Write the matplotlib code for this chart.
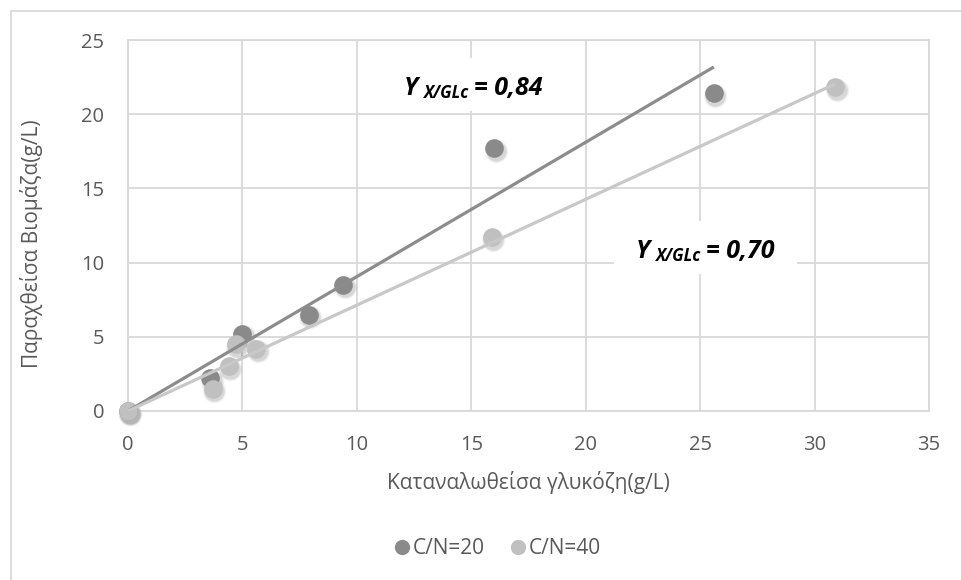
import numpy as np
import matplotlib
matplotlib.use("Agg")
import matplotlib.pyplot as plt
from matplotlib.patches import Rectangle
from matplotlib.lines import Line2D
import matplotlib.transforms as mtransforms

# ---- data ----
x_cn20 = [0, 3.6, 5.0, 7.9, 9.4, 16.0, 25.6]
y_cn20 = [0, 2.2, 5.2, 6.5, 8.5, 17.7, 21.4]
x_cn40 = [0, 3.7, 4.4, 4.7, 5.6, 15.9, 30.9]
y_cn40 = [0, 1.5, 3.0, 4.5, 4.2, 11.7, 21.8]
series_names = ["C/N=20", "C/N=40"]
yield_labels = ["0,84", "0,70"]
x_ticks = [0, 5, 10, 15, 20, 25, 30, 35]
y_ticks = [0, 5, 10, 15, 20, 25]
x_label = "Καταναλωθείσα γλυκόζη(g/L)"
y_label = "Παραχθείσα Βιομάζα(g/L)"

plt.rcParams['font.family'] = ['Open Sans', 'DejaVu Sans']

W, H = 962, 580
fig = plt.figure(figsize=(W / 100, H / 100), dpi=100)
ax = fig.add_axes([128 / W, 1 - 411 / H, (929 - 128) / W, (411 - 40) / H])

grid_c = '#d9d9d9'
text_c = '#595959'
dark_c = '#8a8a8a'
light_c = '#c0c0c0'
dark_line = '#8c8c8c'
light_line = '#c8c8c8'

ax.set_xlim(0, 35)
ax.set_ylim(0, 25)
ax.set_xticks(x_ticks)
ax.set_yticks(y_ticks)
ax.set_xticklabels([str(v) for v in x_ticks])
ax.set_yticklabels([str(v) for v in y_ticks])
ax.grid(True, color=grid_c, linewidth=1.3, zorder=0)
ax.set_axisbelow(True)
for s in ax.spines.values():
    s.set_color(grid_c)
    s.set_linewidth(1.3)
ax.tick_params(length=0, pad=17, labelsize=14.5, labelcolor=text_c)
for lab in ax.get_xticklabels() + ax.get_yticklabels():
    lab.set_clip_on(False)

# outer chart border
fig.patches.append(Rectangle((11 / W, -0.1), 1.2, 1 - 11 / H + 0.1,
                             transform=fig.transFigure, fill=False,
                             edgecolor=grid_c, linewidth=1.3))

ms = 180  # marker area (pt^2)


def shadowed_scatter(xs, ys, color, z):
    for a, sz in [(0.04, 1.6), (0.05, 1.35), (0.07, 1.15)]:
        tr = mtransforms.offset_copy(ax.transData, fig=fig, x=1.5, y=-2.5, units='dots')
        ax.scatter(xs, ys, s=ms * sz, color='black', alpha=a, linewidths=0,
                   transform=tr, zorder=z - 0.5, clip_on=False)
    ax.scatter(xs, ys, s=ms, color=color, linewidths=0, zorder=z, clip_on=False)


def trend_through_origin(xs, ys):
    xs = np.asarray(xs, float)
    ys = np.asarray(ys, float)
    k = (xs * ys).sum() / (xs * xs).sum()
    xx = np.array([0, xs.max()])
    return xx, k * xx


shadowed_scatter(x_cn20, y_cn20, dark_c, 3)
shadowed_scatter(x_cn40, y_cn40, light_c, 3.2)
tx, ty = trend_through_origin(x_cn20, y_cn20)
ax.plot(tx, ty, color=dark_line, lw=2.3, zorder=4, solid_capstyle='butt')
tx, ty = trend_through_origin(x_cn40, y_cn40)
ax.plot(tx, ty, color=light_line, lw=2.3, zorder=4, solid_capstyle='butt')

# axis labels
fig.text(528.5 / W, 1 - 482 / H, x_label, ha='center', va='center',
         fontsize=15, color=text_c)
fig.text(32 / W, 1 - 244 / H, y_label, ha='center', va='center',
         rotation=90, fontsize=15, color=text_c)

# legend
handles = [Line2D([], [], marker='o', ls='', markersize=11, color=c, markeredgewidth=0)
           for c in (dark_c, light_c)]
fig.legend(handles, series_names, loc='center', bbox_to_anchor=(495 / W, 1 - 549 / H),
           ncol=2, frameon=False, fontsize=15, labelcolor=text_c,
           handletextpad=-0.1, columnspacing=1.0, handlelength=1.2)

# yield annotations
fig.canvas.draw()
renderer = fig.canvas.get_renderer()


def rich_label(px, py, value):
    # px, py: pixel coords (from top-left) of the baseline start
    y_disp = H - py
    x_cur = px
    t1 = fig.text(x_cur / W, y_disp / H, "Y", fontsize=18, fontweight='bold',
                  fontstyle='italic', va='baseline', ha='left', zorder=6)
    bb = t1.get_window_extent(renderer)
    x_cur = bb.x1 + 6
    t2 = fig.text(x_cur / W, (y_disp - 3) / H, "X/GLc", fontsize=12, fontweight='bold',
                  fontstyle='italic', va='baseline', ha='left', zorder=6)
    bb2 = t2.get_window_extent(renderer)
    x_cur = bb2.x1 + 5
    t3 = fig.text(x_cur / W, y_disp / H, "= " + value, fontsize=18, fontweight='bold',
                  fontstyle='italic', va='baseline', ha='left', zorder=6)
    bb3 = t3.get_window_extent(renderer)
    x0 = bb.x0 - 22
    x1 = bb3.x1 + 22
    y0 = y_disp - 16
    y1 = bb.y1 + 18
    fig.patches.append(Rectangle((x0 / W, y0 / H), (x1 - x0) / W, (y1 - y0) / H,
                                 transform=fig.transFigure, facecolor='white',
                                 edgecolor='none', zorder=1))


rich_label(404, 95, yield_labels[0])
rich_label(636, 258, yield_labels[1])

fig.savefig("out.png", dpi=100)
